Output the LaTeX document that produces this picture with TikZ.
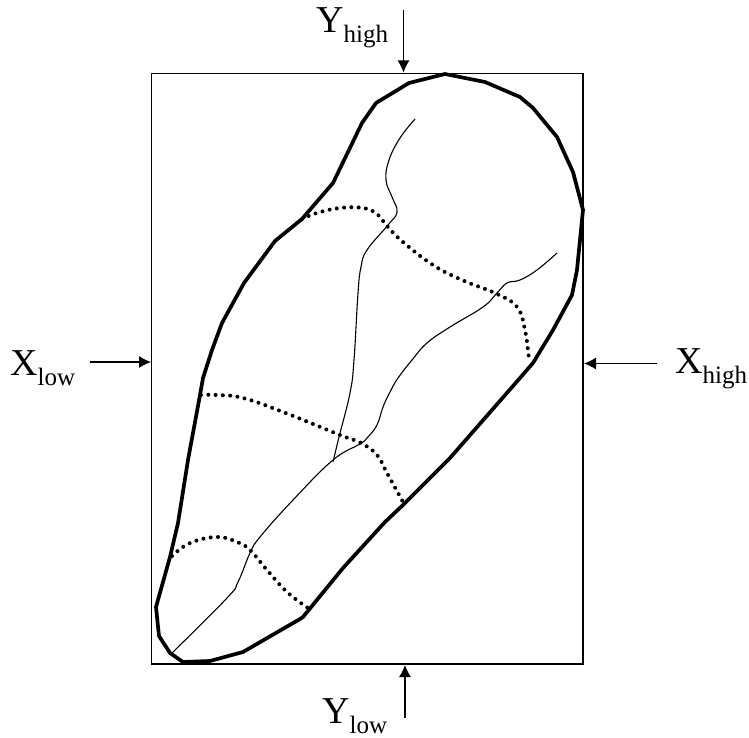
\documentclass[tikz,border=0pt]{standalone}
\usepackage{fontspec}
\setmainfont{Liberation Serif}
\usetikzlibrary{arrows.meta}
\newcommand{\boundlabel}[2]{{\fontsize{38}{38}\selectfont #1}\raisebox{-10pt}{\fontsize{25}{25}\selectfont #2}}
\begin{document}
\begin{tikzpicture}[x=1pt,y=-1pt, every node/.style={inner sep=0pt, anchor=base west},
    outline/.style={line width=3.7pt, line join=round, line cap=round},
    vessel/.style={line width=1.1pt, smooth, tension=0.7},
    section/.style={line width=4pt, line cap=round, dash pattern=on 0pt off 7.3pt, smooth, tension=0.7},
    pointer/.style={line width=1.1pt, -{Latex[length=12pt,width=12pt]}}]
  \useasboundingbox (0,0) rectangle (749,738);
  \draw[line width=1.1pt] (151.5,73.5) rectangle (583,664);
  % organ outline
  \draw[outline] (445,74) -- (485,82) -- (520,97) -- (533,108) -- (557,137) -- (573,172) -- (583,210)
    -- (577,270) -- (572,295) -- (553,330) -- (533,363) -- (520,378) -- (450,458) -- (403,505)
    -- (385,522) -- (343,568) -- (303,617) -- (300,619) -- (243,652) -- (210,661) -- (183,662)
    -- (170,653) -- (159,636) -- (156,607) -- (170,557) -- (178,523) -- (188,460) -- (200,395)
    -- (203,378) -- (212,350) -- (222,323) -- (244,283) -- (275,241) -- (302,219) -- (333,183)
    -- (362,123) -- (376,103) -- (409,83) -- cycle;
  % thin lines
  \draw[vessel] plot coordinates {(415,119) (400,138) (389,160) (386,180) (392,197) (397,212)
    (388,225) (367,250) (361,267) (358,293) (354,360) (350,393) (339,437) (333,462)};
  \draw[vessel] plot coordinates {(557,253) (537,270) (520,280) (507,283) (497,293) (483,307)
    (450,327) (427,343) (412,360) (398,378) (390,392) (383,407) (377,425) (367,438) (360,444)
    (333,460) (293,500) (260,537) (250,553) (238,582) (227,598) (172,653)};
  % dotted sections
  \draw[section] plot coordinates {(302,219) (317,213) (340,208) (363,208) (377,214) (387,226)
    (403,242) (433,265) (462,280) (497,294) (517,307) (525,330) (529,360)};
  \draw[section] plot coordinates {(201,395) (217,395) (243,398) (283,412) (340,435) (361,443)
    (377,455) (387,473) (403,502)};
  \draw[section] plot coordinates {(172,556) (190,543) (217,537) (237,542) (250,550) (267,570)
    (287,592) (308,608)};
  % labels and arrows
  \node (yhigh) at (316,33) {\boundlabel{Y}{high}};
  \node (xlow) at (10,375) {\boundlabel{X}{low}};
  \node (xhigh) at (675,373) {\boundlabel{X}{high}};
  \node (ylow) at (322,723) {\boundlabel{Y}{low}};
  \coordinate (yhighstart) at (403.5,10);
  \coordinate (yhighend) at (403.5,72.5);
  \coordinate (xlowstart) at (90,362);
  \coordinate (xlowend) at (151,362);
  \coordinate (xhighstart) at (657,363.5);
  \coordinate (xhighend) at (584,363.5);
  \coordinate (ylowstart) at (405,718);
  \coordinate (ylowend) at (405,665);
  \draw[pointer] (yhighstart) -- (yhighend);
  \draw[pointer] (xlowstart) -- (xlowend);
  \draw[pointer] (xhighstart) -- (xhighend);
  \draw[pointer] (ylowstart) -- (ylowend);
\end{tikzpicture}
\end{document}
